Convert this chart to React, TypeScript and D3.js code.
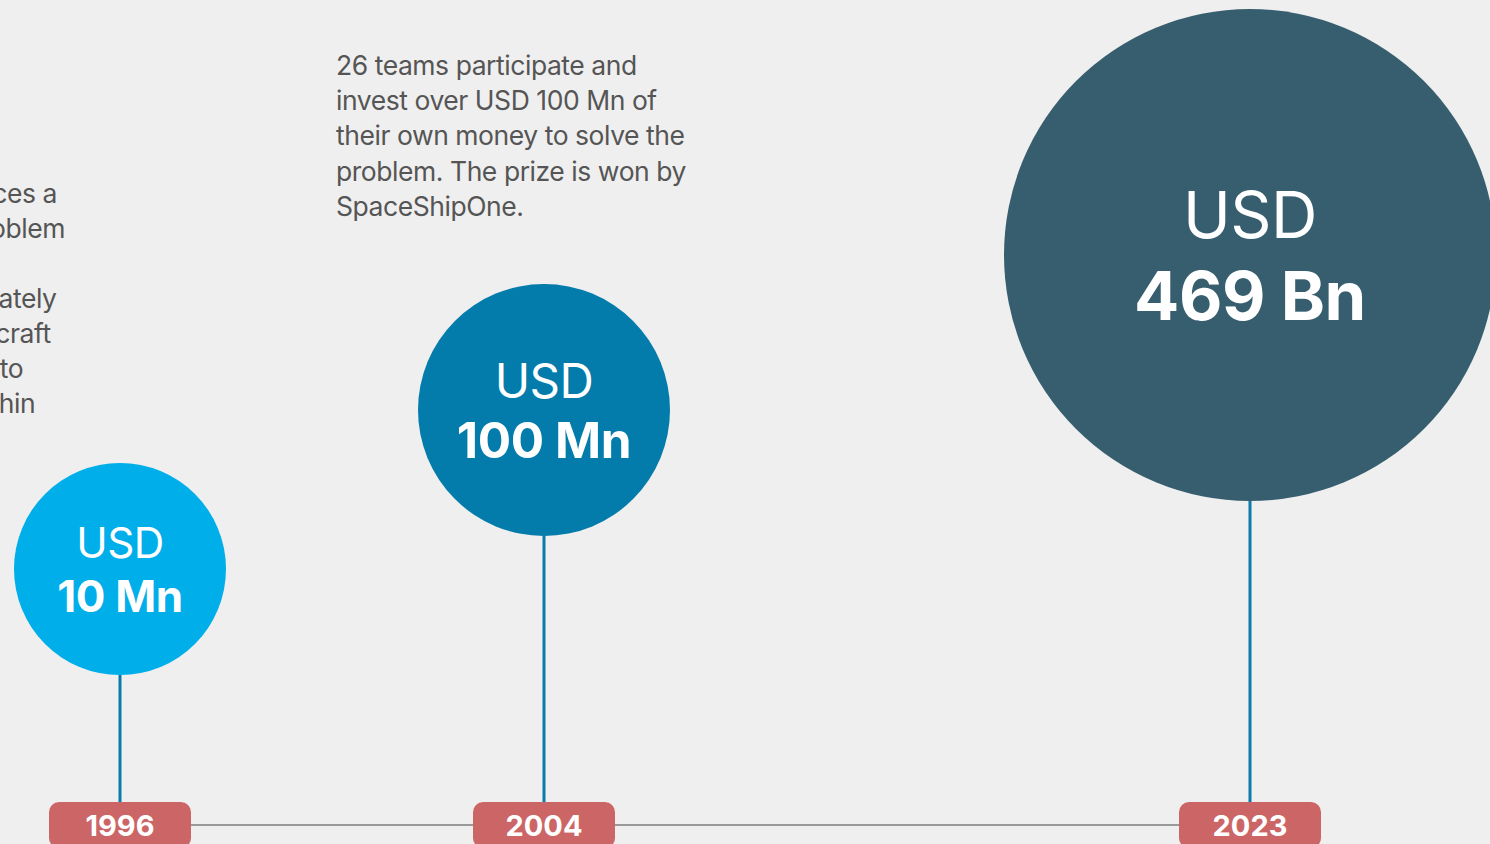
import React, { useEffect } from "react";
import * as d3 from "d3";

const width = 1490;
const height = 844;

// Data
const years = [1996, 2004, 2023];
const amounts = [1e7, 1e8, 4.69e11];
const unitLabels = ["USD", "USD", "USD"];
const amountLabels = ["10 Mn", "100 Mn", "469 Bn"];
const colors = ["#00aeea", "#037bab", "#375e6f"];

const notes1996 = [
  "In 1996, XPRIZE announces a",
  "USD 10 Mn prize to a problem",
  "of space travel:",
  "to build a re-usable, privately",
  "financed, crewed spacecraft",
  "that carries 3 people up to",
  "space (100km) twice within",
];
const notes2004 = [
  "26 teams participate and",
  "invest over USD 100 Mn of",
  "their own money to solve the",
  "problem. The prize is won by",
  "SpaceShipOne.",
];

const font = "Inter, 'Noto Sans', sans-serif";
const lineY = 825;
const badgeW = 142;
const badgeH = 46;

export default function App() {
  useEffect(() => {
    document.body.style.margin = "0";
  }, []);

  // layout scales (piecewise across the three milestones)
  const x = d3.scaleLinear().domain(years).range([120, 544, 1250]);
  const cy = d3.scaleLinear().domain(years).range([569, 410, 255]);
  const r = d3.scaleLog().domain(amounts).range([106, 126, 246]);
  const fontSize = d3.scaleLinear().domain(r.range()).range([44, 49.5, 67]);

  return (
    <svg width={width} height={height} style={{ display: "block", background: "#efefef" }}>
      <rect width={width} height={height} fill="#efefef" />

      {/* annotation blocks */}
      <text fontFamily={font} fontSize={26.5} fill="#555" letterSpacing={-0.45}>
        {notes1996.map((t, i) => (
          <tspan key={i} x={x(1996) - 415} y={203 + i * 35}>{t}</tspan>
        ))}
      </text>
      <text fontFamily={font} fontSize={26.5} fill="#555" letterSpacing={-0.45}>
        {notes2004.map((t, i) => (
          <tspan key={i} x={x(2004) - 208} y={75 + i * 35.2}>{t}</tspan>
        ))}
      </text>

      {/* timeline */}
      <line
        x1={x(years[0])}
        x2={x(years[years.length - 1])}
        y1={lineY}
        y2={lineY}
        stroke="#999"
        strokeWidth={2}
      />

      {years.map((yr, i) => {
        const cx = x(yr);
        const cyy = cy(yr);
        const rad = r(amounts[i]);
        const fs = fontSize(rad);
        return (
          <g key={yr}>
            <line
              x1={cx}
              x2={cx}
              y1={cyy + rad}
              y2={lineY - badgeH / 2}
              stroke="#0b7bab"
              strokeWidth={3}
            />
            <circle cx={cx} cy={cyy} r={rad} fill={colors[i]} />
            <text
              x={cx}
              y={cyy - fs * 0.25}
              textAnchor="middle"
              fontFamily={font}
              fontSize={fs * 0.96}
              fill="#fff"
              fontWeight={400}
              letterSpacing={-0.5}
            >
              {unitLabels[i]}
            </text>
            <text
              x={cx}
              y={cyy + fs * 0.97}
              textAnchor="middle"
              fontFamily={font}
              fontSize={fs}
              fill="#fff"
              fontWeight={700}
              letterSpacing={-0.4}
            >
              {amountLabels[i]}
            </text>
            <rect
              x={cx - badgeW / 2}
              y={lineY - badgeH / 2}
              width={badgeW}
              height={badgeH}
              rx={10}
              fill="#cc6666"
            />
            <text
              x={cx}
              y={lineY + 11}
              textAnchor="middle"
              fontFamily={font}
              fontSize={29}
              fontWeight={700}
              fill="#fff"
            >
              {yr}
            </text>
          </g>
        );
      })}
    </svg>
  );
}
